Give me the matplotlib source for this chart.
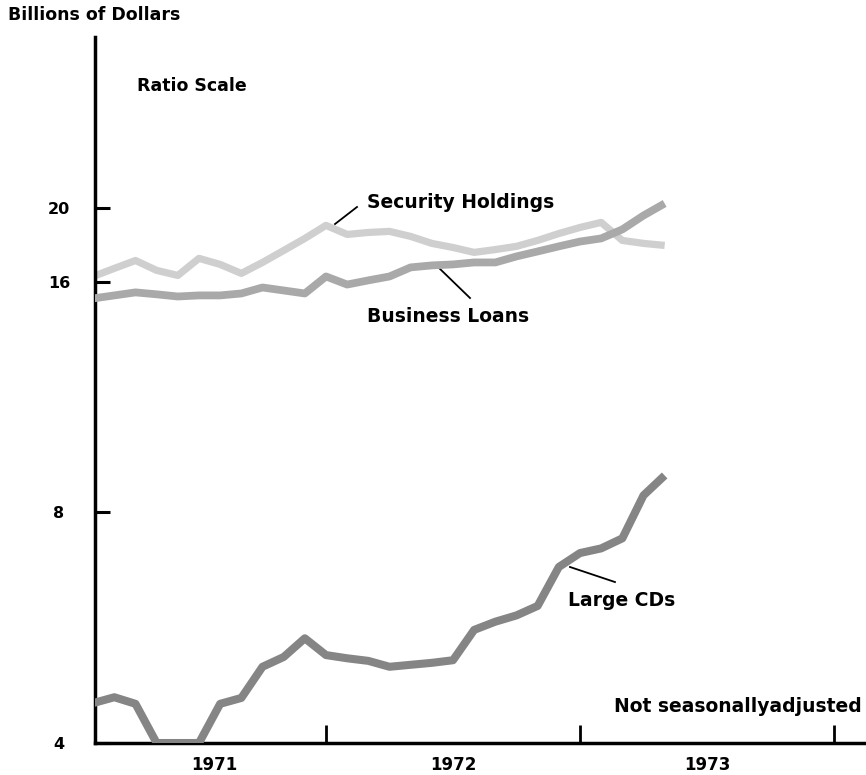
import numpy as np
import matplotlib
matplotlib.use('Agg')
import matplotlib.pyplot as plt

plt.rcParams['font.family'] = ['DejaVu Sans']

# Monthly, end of month, Jan 1971 .. Apr 1973 (billions of dollars)
months = np.arange(1, 29)
dates = 1971 + months / 12.0

security_holdings = [16.26, 16.66, 17.06, 16.56, 16.31, 17.17, 16.86, 16.41, 16.96, 17.58,
                     18.23, 18.96, 18.45, 18.56, 18.62, 18.34, 17.96, 17.74, 17.48, 17.63,
                     17.80, 18.12, 18.50, 18.84, 19.13, 18.12, 17.96, 17.85]
business_loans = [15.22, 15.36, 15.50, 15.41, 15.31, 15.36, 15.36, 15.45, 15.73, 15.59,
                  15.45, 16.26, 15.87, 16.07, 16.26, 16.71, 16.81, 16.86, 16.96, 16.96,
                  17.27, 17.53, 17.80, 18.06, 18.23, 18.73, 19.53, 20.25]
large_cds = [4.51, 4.59, 4.50, 4.00, 4.00, 4.00, 4.50, 4.58, 5.03, 5.18,
             5.48, 5.21, 5.16, 5.12, 5.03, 5.06, 5.09, 5.13, 5.62, 5.76,
             5.87, 6.04, 6.79, 7.08, 7.18, 7.40, 8.42, 8.94]

y_ticks = [4, 8, 16, 20]
year_ticks = [1972, 1973, 1974]
year_label_pos = [1971.56, 1972.5, 1973.5]
year_labels = ['1971', '1972', '1973']

fig = plt.figure(figsize=(8.66, 7.75), dpi=100)
ax = fig.add_axes([95 / 866, 32 / 775, 771 / 866, 706 / 775])

ax.plot(dates, security_holdings, color='#cfcfcf', lw=5.2, solid_capstyle='butt', zorder=2)
ax.plot(dates, business_loans, color='#a9a9a9', lw=5.6, solid_capstyle='butt', zorder=3)
ax.plot(dates, large_cds, color='#858585', lw=5.8, solid_capstyle='butt', zorder=3)

ax.set_yscale('log')
ax.set_ylim(4, 33.4)
ax.set_xlim(1971.0906, 1974.126)

ax.yaxis.set_major_locator(matplotlib.ticker.FixedLocator(y_ticks))
ax.yaxis.set_minor_locator(matplotlib.ticker.NullLocator())
ax.set_yticklabels([str(v) for v in y_ticks])
ax.tick_params(axis='y', which='major', direction='in', length=11, width=2.2,
               pad=26, labelsize=11.5)
for lab in ax.get_yticklabels():
    lab.set_fontweight('bold')
    lab.set_horizontalalignment('center')

ax.set_xticks(year_ticks)
ax.set_xticklabels([])
ax.set_xticks(year_label_pos, minor=True)
ax.set_xticklabels(year_labels, minor=True, fontweight='bold', fontsize=12)
ax.tick_params(axis='x', which='major', direction='in', length=13, width=2.0)
ax.tick_params(axis='x', which='minor', length=0, pad=9)

for s in ['top', 'right']:
    ax.spines[s].set_visible(False)
ax.spines['left'].set_linewidth(2.5)
ax.spines['bottom'].set_linewidth(2.5)

fig.text(8 / 866, 1 - 15 / 775, 'Billions of Dollars', fontsize=12.5, fontweight='bold',
         va='center', ha='left')
ax.text(0.0545, 0.9306, 'Ratio Scale', transform=ax.transAxes, fontsize=12.5,
        fontweight='bold', va='center')
ax.text(0.9948, 0.0524, 'Not seasonallyadjusted', transform=ax.transAxes, fontsize=13.5,
        fontweight='bold', va='center', ha='right')

ax.text(0.3528, 0.7649, 'Security Holdings', transform=ax.transAxes, fontsize=13.5,
        fontweight='bold', va='center')
ax.text(0.3528, 0.6048, 'Business Loans', transform=ax.transAxes, fontsize=13.5,
        fontweight='bold', va='center')
ax.text(0.6135, 0.2025, 'Large CDs', transform=ax.transAxes, fontsize=13.5,
        fontweight='bold', va='center')

# leader lines
ax.plot([0.3113, 0.3398], [0.7351, 0.7592], transform=ax.transAxes, color='black', lw=1.3)
ax.plot([0.4449, 0.4864], [0.6742, 0.6303], transform=ax.transAxes, color='black', lw=1.3)
ax.plot([0.6161, 0.6744], [0.2493, 0.2280], transform=ax.transAxes, color='black', lw=1.3)

fig.savefig('out.png', dpi=100)
